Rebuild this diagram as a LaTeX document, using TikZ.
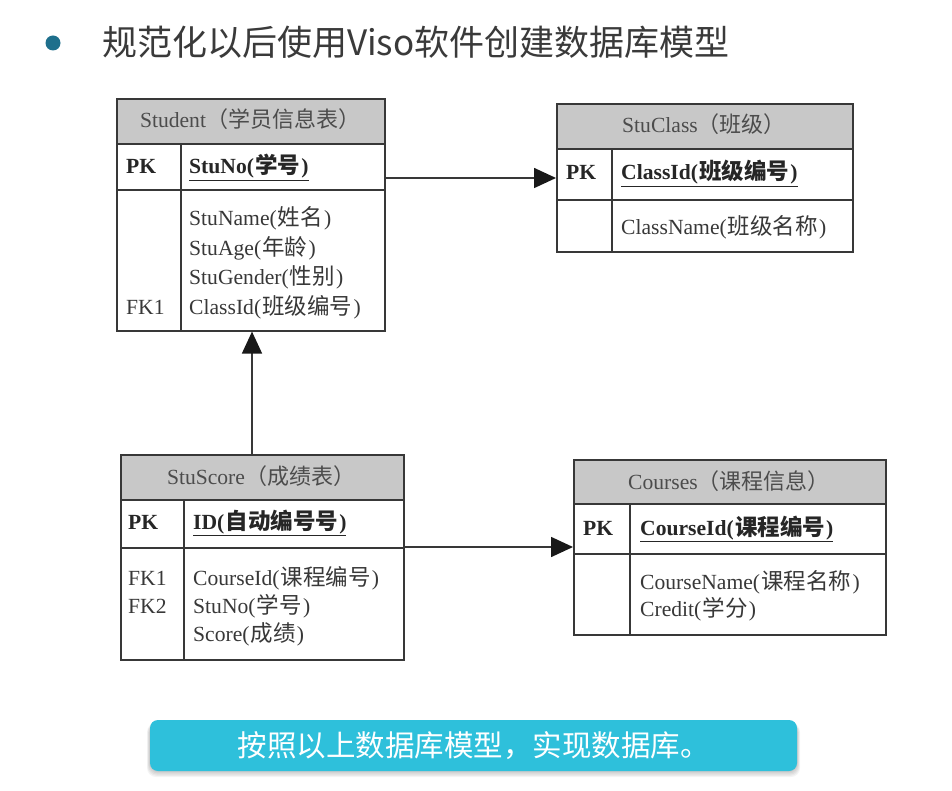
\documentclass[tikz,border=0pt]{standalone}
\usepackage{fontspec}
\setmainfont{Liberation Serif}
\newfontfamily\cjk{Noto Sans CJK SC}
\usetikzlibrary{arrows.meta}

\definecolor{ink}{HTML}{383838}
\definecolor{hdrfill}{HTML}{C8C8C8}
\definecolor{dotblue}{HTML}{1E6F8C}
\definecolor{bannerfill}{HTML}{2EC0DB}
\definecolor{titleink}{HTML}{3A3A3A}

% Chinese run inside the serif table text
\newcommand\zh[1]{\hspace{1.2pt}{\cjk\fontsize{22.5}{29}\selectfont #1}\hspace{1.2pt}}
\newcommand\zhh[1]{{\cjk\fontsize{22}{29}\selectfont #1}}

\tikzset{
  tbl/.style={draw=ink, line width=1.6pt, anchor=north west, inner sep=0pt},
  rule/.style={draw=ink, line width=1.6pt},
  hdrtext/.style={anchor=base, inner sep=0pt, text=ink!90, font=\fontsize{21.6}{29}\selectfont},
  cell/.style={anchor=base west, inner sep=0pt, text=ink, font=\fontsize{21.6}{29}\selectfont},
  keycell/.style={cell, font=\bfseries\fontsize{21.6}{29}\selectfont, text=black!85},
  arr/.style={draw=ink, line width=1.6pt, -{Triangle[length=22pt,width=20pt,color=black!90]}},
}

\begin{document}
\begin{tikzpicture}[x=1pt,y=-1pt]
\useasboundingbox[fill=white] (0,0) rectangle (952,791);

% heading
\fill[dotblue] (53,43) circle (7.5);
\node[anchor=base west, inner sep=0pt, text=titleink, font=\cjk\fontsize{35}{40}\selectfont]
  (title) at (102,56) {规范化以后使用Viso软件创建数据库模型};

% ---------- Student ----------
\fill[hdrfill] (116,98) rectangle (384,144);
\node[tbl, minimum width=268pt, minimum height=232pt] (student) at (116,98) {};
\draw[rule] (116,144) -- (384,144) (116,190) -- (384,190) (181,144) -- (181,330);
\node[hdrtext] (studenth) at (250,128) {Student\zhh{（学员信息表）}};
\node[keycell] (studentpk) at (126,174) {PK};
\node[keycell] (studentkey) at (189,174) {\underline{StuNo(\zh{学号})}};
\node[cell] (s1) at (189,226) {StuName(\zh{姓名})};
\node[cell] (s2) at (189,256) {StuAge(\zh{年龄})};
\node[cell] (s3) at (189,285) {StuGender(\zh{性别})};
\node[cell] (s4) at (189,315) {ClassId(\zh{班级编号})};
\node[cell] (sfk) at (126,315) {FK1};

% ---------- StuClass ----------
\fill[hdrfill] (556,103) rectangle (852,149);
\node[tbl, minimum width=296pt, minimum height=148pt] (stuclass) at (556,103) {};
\draw[rule] (556,149) -- (852,149) (556,200) -- (852,200) (612,149) -- (612,251);
\node[hdrtext] (stuclassh) at (704,133) {StuClass\zhh{（班级）}};
\node[keycell] (stuclasspk) at (566,180) {PK};
\node[keycell] (stuclasskey) at (621,180) {\underline{ClassId(\zh{班级编号})}};
\node[cell] (c1) at (621,235) {ClassName(\zh{班级名称})};

% ---------- StuScore ----------
\fill[hdrfill] (120,454) rectangle (403,500);
\node[tbl, minimum width=283pt, minimum height=205pt] (stuscore) at (120,454) {};
\draw[rule] (120,500) -- (403,500) (120,548) -- (403,548) (184,500) -- (184,659);
\node[hdrtext] (stuscoreh) at (261,484) {StuScore\zhh{（成绩表）}};
\node[keycell] (stuscorepk) at (128,529) {PK};
\node[keycell] (stuscorekey) at (193,529) {\underline{ID(\zh{自动编号号})}};
\node[cell] (g1) at (193,585) {CourseId(\zh{课程编号})};
\node[cell] (g2) at (193,613) {StuNo(\zh{学号})};
\node[cell] (g3) at (193,641) {Score(\zh{成绩})};
\node[cell] (gfk1) at (128,585) {FK1};
\node[cell] (gfk2) at (128,613) {FK2};

% ---------- Courses ----------
\fill[hdrfill] (573,459) rectangle (885,504);
\node[tbl, minimum width=312pt, minimum height=175pt] (courses) at (573,459) {};
\draw[rule] (573,504) -- (885,504) (573,554) -- (885,554) (630,504) -- (630,634);
\node[hdrtext] (coursesh) at (729,489) {Courses\zhh{（课程信息）}};
\node[keycell] (coursespk) at (583,535) {PK};
\node[keycell] (courseskey) at (640,535) {\underline{CourseId(\zh{课程编号})}};
\node[cell] (k1) at (640,589) {CourseName(\zh{课程名称})};
\node[cell] (k2) at (640,616) {Credit(\zh{学分})};

% ---------- relationships ----------
\coordinate (row1) at (0,178);
\coordinate (col1) at (252,0);
\coordinate (row2) at (0,547);
\draw[arr] (student.east |- row1) -- (stuclass.west |- row1);
\draw[arr] (stuscore.north -| col1) -- (student.south -| col1);
\draw[arr] (stuscore.east |- row2) -- (courses.west |- row2);

% ---------- footer banner ----------
% soft shadow under the banner, built from stacked translucent layers
\foreach \g in {1,2,3,4,5}{
  \fill[black, opacity=0.045, rounded corners=9pt]
    (150-\g*0.6,724-\g*0.2) rectangle (797+\g*0.6,771+\g*1.2);
}
\node[fill=bannerfill, rounded corners=8pt, minimum width=647pt, minimum height=51pt,
      text=white, font=\cjk\fontsize{29.5}{32}\selectfont] (banner) at (473.5,745.5)
  {按照以上数据库模型，实现数据库。};
\end{tikzpicture}
\end{document}
